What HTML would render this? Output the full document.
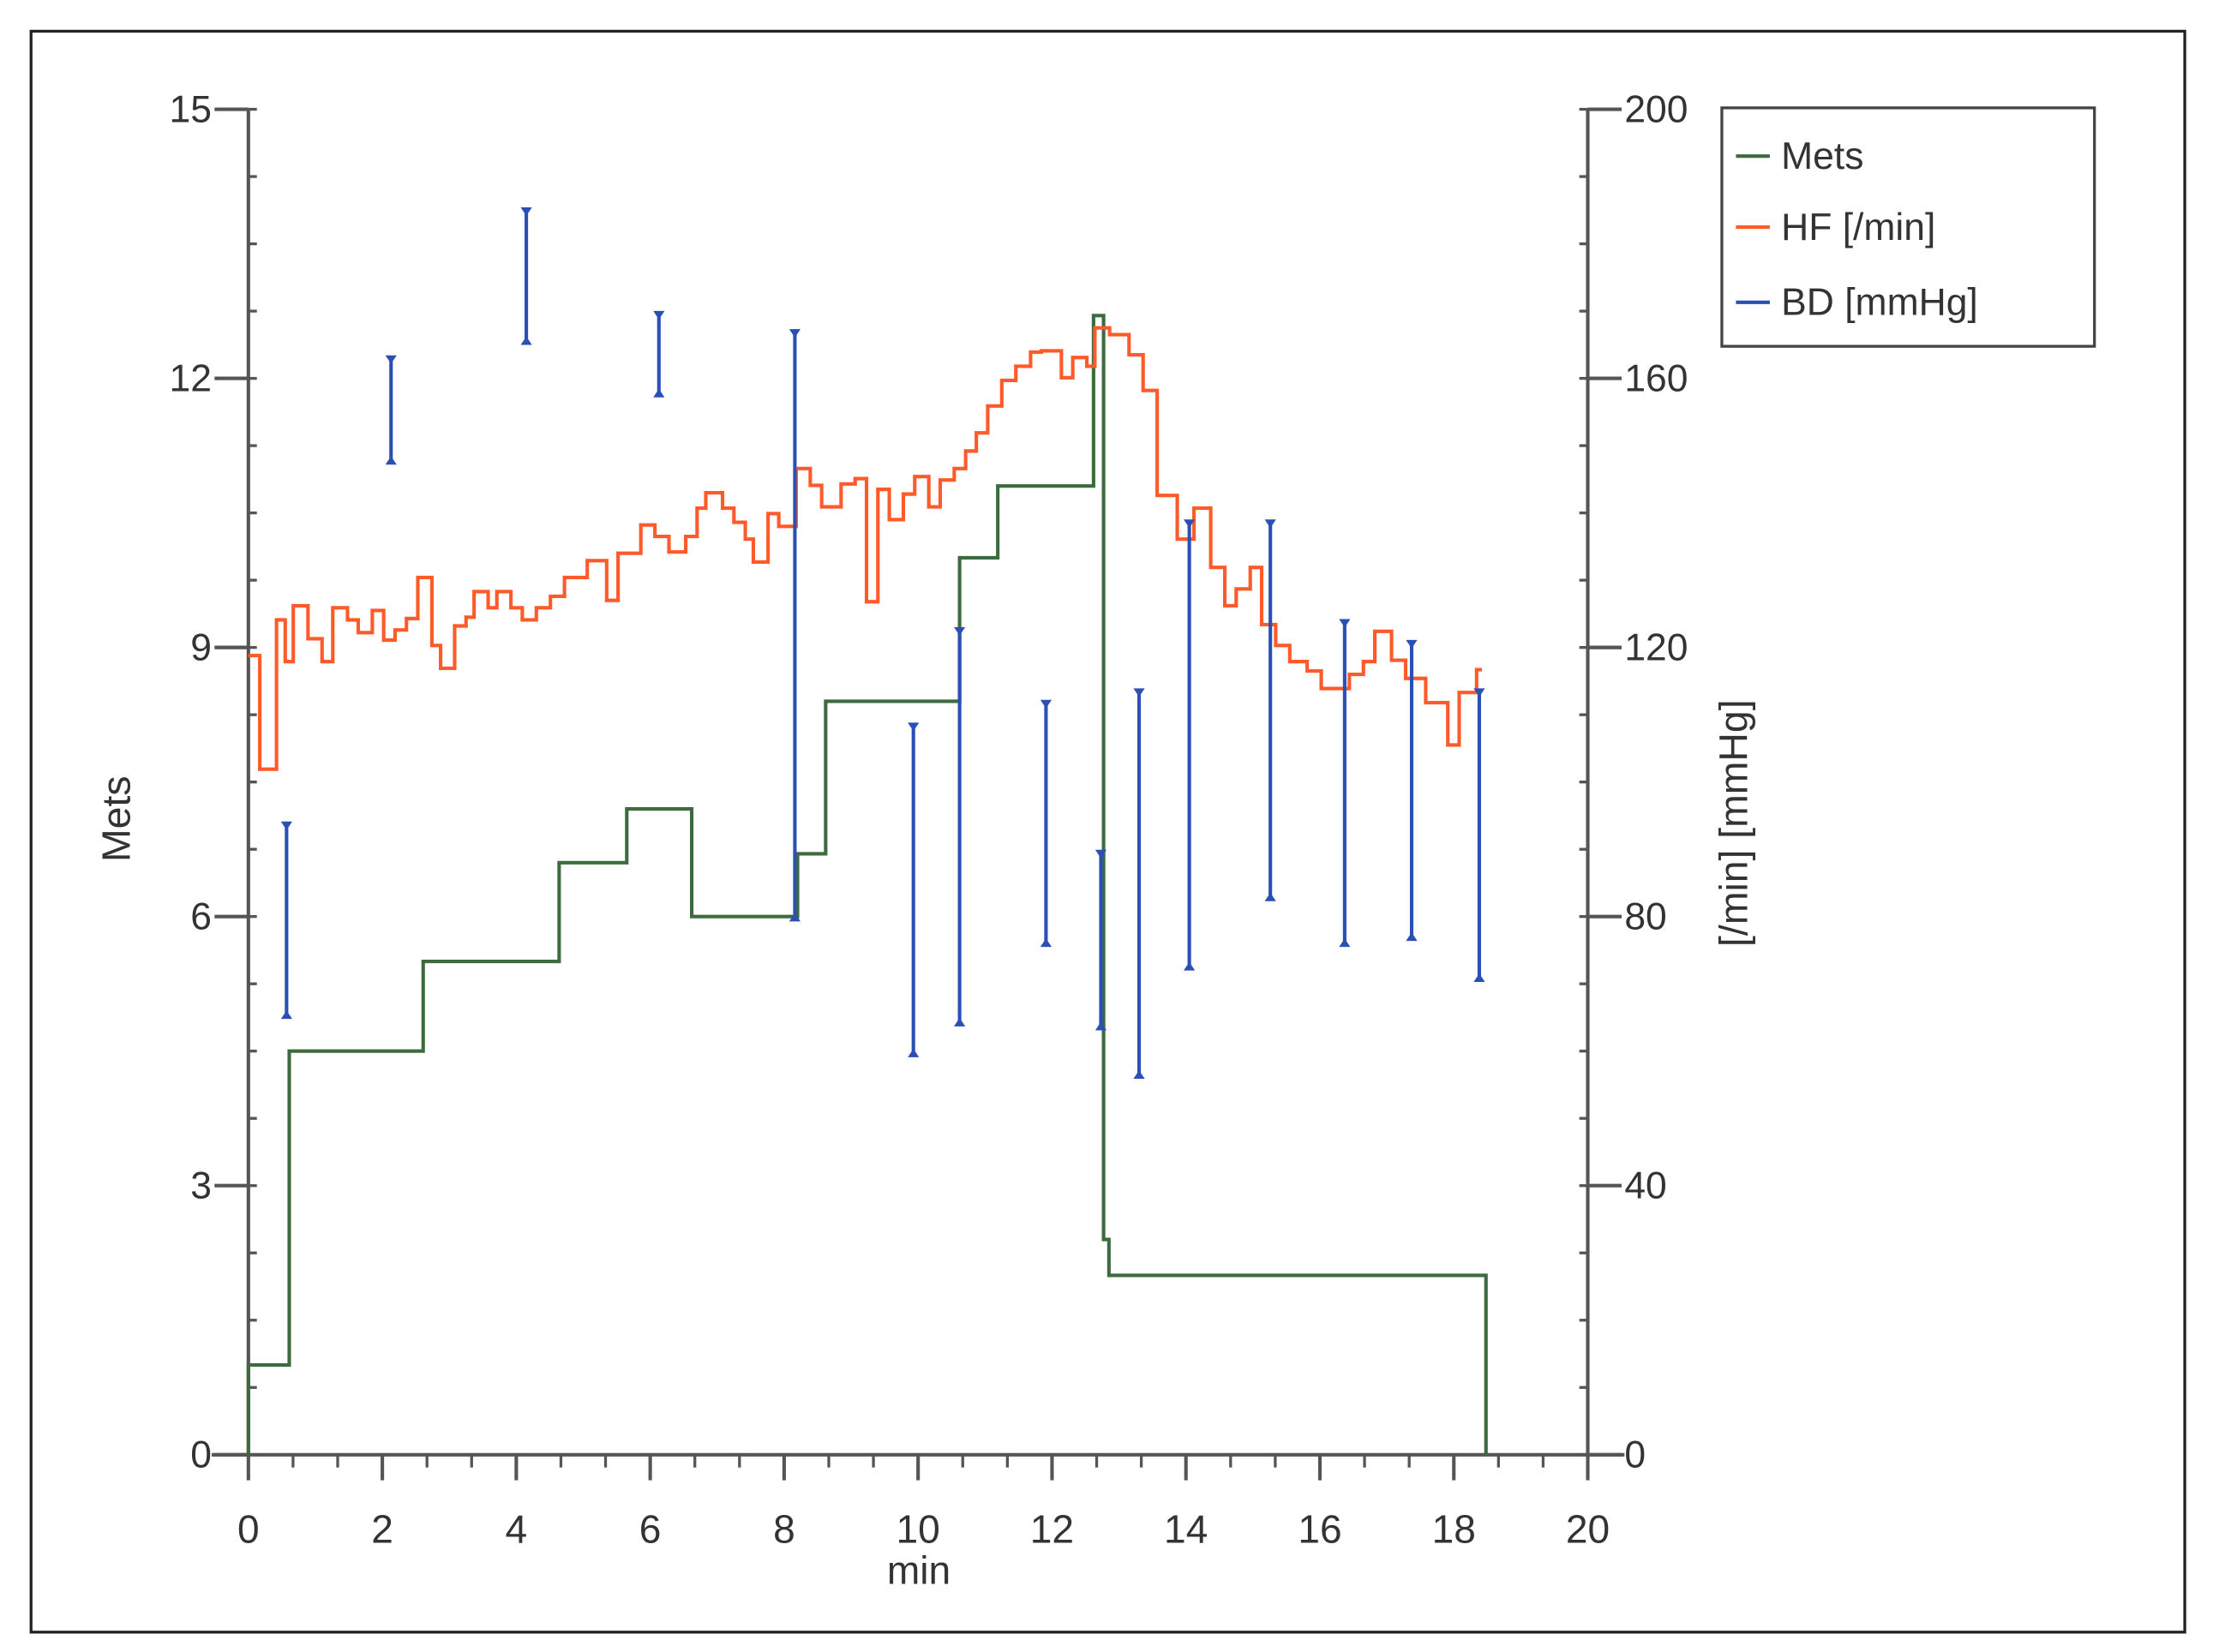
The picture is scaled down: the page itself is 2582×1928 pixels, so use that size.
<!DOCTYPE html>
<html><head><meta charset="utf-8"><style>
html,body{margin:0;padding:0;background:#fff;}
svg{display:block;}
text{font-family:"Liberation Sans Narrow","Liberation Sans",sans-serif;fill:#333;}
</style></head><body>
<svg id="chart" width="2582" height="1928" viewBox="0 0 1568 1164" preserveAspectRatio="none" xmlns="http://www.w3.org/2000/svg">
<rect x="22" y="22" width="1526" height="1128" fill="#fff" stroke="#222" stroke-width="2"/>
<g id="axes"></g>
<g id="series"></g>
<text x="651" y="1116" font-size="28" text-anchor="middle">min</text>
<text transform="translate(92,577) rotate(-90)" font-size="28" text-anchor="middle">Mets</text>
<text transform="translate(1238,580) rotate(-90)" font-size="28" text-anchor="middle">[/min]  [mmHg]</text>
<g>
<rect x="1220" y="76" width="264" height="168" fill="#fff" stroke="#444" stroke-width="2"/>
<line x1="1230" y1="110" x2="1254" y2="110" stroke="#3d6b3d" stroke-width="2.5"/>
<text x="1262" y="119" font-size="27">Mets</text>
<line x1="1230" y1="160" x2="1254" y2="160" stroke="#ff5a2a" stroke-width="2.5"/>
<text x="1262" y="169" font-size="27">HF [/min]</text>
<line x1="1230" y1="213" x2="1254" y2="213" stroke="#2a4fb5" stroke-width="2.5"/>
<text x="1262" y="222" font-size="27">BD [mmHg]</text>
</g>
</svg>
<script>
const metsT = [0,0.61,2.61,4.64,5.65,6.62,8.2,8.62,10.62,11.19,12.62,12.77,12.85,18.48];
const metsV = [1,4.5,5.5,6.6,7.2,6.0,6.7,8.4,10.0,10.8,12.7,2.4,2.0,0];
const hfT = [0,0.17,0.42,0.55,0.67,0.89,1.10,1.26,1.48,1.64,1.85,2.02,2.19,2.36,2.53,2.74,2.87,3.08,3.25,3.37,3.58,3.71,3.92,4.09,4.30,4.51,4.72,5.06,5.35,5.52,5.86,6.07,6.28,6.53,6.70,6.83,7.08,7.25,7.42,7.54,7.76,7.92,8.18,8.39,8.56,8.85,9.06,9.23,9.40,9.57,9.78,9.95,10.16,10.33,10.54,10.71,10.87,11.04,11.25,11.46,11.68,11.84,12.14,12.31,12.52,12.64,12.86,13.15,13.36,13.57,13.87,14.12,14.37,14.58,14.75,14.96,15.13,15.34,15.55,15.81,16.02,16.44,16.65,16.82,17.07,17.28,17.58,17.91,18.08,18.34];
const hfV = [118.8,101.9,124.1,117.9,126.2,121.3,117.9,125.9,124.1,122.2,125.5,121.1,122.6,124.3,130.4,120.3,116.9,123.2,124.5,128.3,125.9,128.3,125.9,124.1,125.9,127.6,130.4,132.9,127.0,134.0,138.2,136.5,134.2,136.5,140.7,143.0,140.7,138.6,136.1,132.7,139.9,138.0,146.6,144.1,140.9,144.3,145.1,126.8,143.5,139.0,142.8,145.4,140.9,144.9,146.6,149.2,151.9,155.9,159.7,161.8,163.9,164.1,160.1,163.1,161.8,167.5,166.5,163.5,158.2,142.6,136.1,140.7,131.9,126.2,128.7,131.9,123.4,120.3,117.9,116.5,113.9,116.0,117.9,122.4,118.1,115.4,111.8,105.5,113.3,116.7];
const bdT = [0.57,2.13,4.15,6.13,8.16,9.93,10.62,11.91,12.73,13.30,14.05,15.26,16.37,17.37,18.38];
const bdHigh = [93.7,163.0,185.0,169.6,166.9,108.4,122.6,111.8,89.5,113.5,138.6,138.6,123.8,120.7,113.5];
const bdLow = [65.2,147.6,165.4,157.6,79.7,59.5,64.1,75.9,63.5,56.3,72.4,82.7,75.9,76.8,70.7];
const xTicks = [0,2,4,6,8,10,12,14,16,18,20];
const leftTicks = [0,3,6,9,12,15];
const rightTicks = [0,40,80,120,160,200];

const X0=176, X1=1125, Y0=1025, Y1=77;
const xs = t => X0 + (X1-X0)*t/20;
const yl = v => Y0 - (Y0-Y1)*v/15;
const yr = v => Y0 - (Y0-Y1)*v/200;
const NS="http://www.w3.org/2000/svg";
function mk(tag, attrs, parent){const e=document.createElementNS(NS,tag);for(const k in attrs)e.setAttribute(k,attrs[k]);parent.appendChild(e);return e;}
const axes=document.getElementById('axes'), series=document.getElementById('series');
const ax='#555';
let e;
e=mk('line',{x1:X0,y1:Y1,x2:X0,y2:Y0,stroke:ax,'stroke-width':2.5},axes);


e=mk('line',{x1:X1,y1:Y1,x2:X1,y2:Y0,stroke:ax,'stroke-width':2.5},axes);


e=mk('line',{x1:X0-26,y1:Y0,x2:X1+26,y2:Y0,stroke:ax,'stroke-width':2.5},axes);


for(let v=0; v<=15.001; v+=0.75){const y=yl(v);mk('line',{x1:X0,y1:y,x2:X0+6,y2:y,stroke:ax,'stroke-width':2},axes);}
for(let v=0; v<=200.1; v+=10){const y=yr(v);mk('line',{x1:X1-6,y1:y,x2:X1,y2:y,stroke:ax,'stroke-width':2},axes);}
for(let t=0; t<=20.01; t+=2/3){const x=xs(t);mk('line',{x1:x,y1:Y0,x2:x,y2:Y0+9,stroke:ax,'stroke-width':2},axes);}
leftTicks.forEach(v=>{const y=yl(v);mk('line',{x1:X0-24,y1:y,x2:X0,y2:y,stroke:ax,'stroke-width':2.5},axes);
 e=mk('text',{x:X0-26,y:y+9,'font-size':27,'text-anchor':'end'},axes);e.textContent=v;
 
 });
rightTicks.forEach(v=>{const y=yr(v);mk('line',{x1:X1,y1:y,x2:X1+24,y2:y,stroke:ax,'stroke-width':2.5},axes);
 e=mk('text',{x:X1+26,y:y+9,'font-size':27,'text-anchor':'start'},axes);e.textContent=v;
 
 });
xTicks.forEach(t=>{const x=xs(t);mk('line',{x1:x,y1:Y0,x2:x,y2:Y0+18,stroke:ax,'stroke-width':2.5},axes);
 e=mk('text',{x:x,y:Y0+62,'font-size':28,'text-anchor':'middle'},axes);e.textContent=t;
 
 });

// Mets step line
let d='M'+xs(0)+','+yl(0);
let prev=0;
for(let i=0;i<metsT.length;i++){d+=' L'+xs(metsT[i])+','+yl(prev)+' L'+xs(metsT[i])+','+yl(metsV[i]);prev=metsV[i];}
e=mk('path',{d:d,fill:'none',stroke:'#3d6b3d','stroke-width':2.5},series);



// HF step line
d='M'+xs(hfT[0])+','+yr(hfV[0]);
for(let i=1;i<hfT.length;i++){d+=' L'+xs(hfT[i])+','+yr(hfV[i-1])+' L'+xs(hfT[i])+','+yr(hfV[i]);}
d+=' L'+xs(hfT[hfT.length-1]+0.08)+','+yr(hfV[hfV.length-1]);
e=mk('path',{d:d,fill:'none',stroke:'#ff5a2a','stroke-width':2.5},series);



// BD error bars
for(let i=0;i<bdT.length;i++){
 const x=xs(bdT[i]), yt=yr(bdHigh[i]), yb=yr(bdLow[i]);
 const g=mk('g',{},series);
 
 
 mk('line',{x1:x,y1:yt,x2:x,y2:yb,stroke:'#2a4fb5','stroke-width':2.5},g);
 mk('path',{d:`M${x-4},${yt-2} L${x+4},${yt-2} L${x},${yt+4} Z`,fill:'#2a4fb5'},g);
 mk('path',{d:`M${x-4},${yb+2} L${x+4},${yb+2} L${x},${yb-4} Z`,fill:'#2a4fb5'},g);
}
</script>
</body></html>
